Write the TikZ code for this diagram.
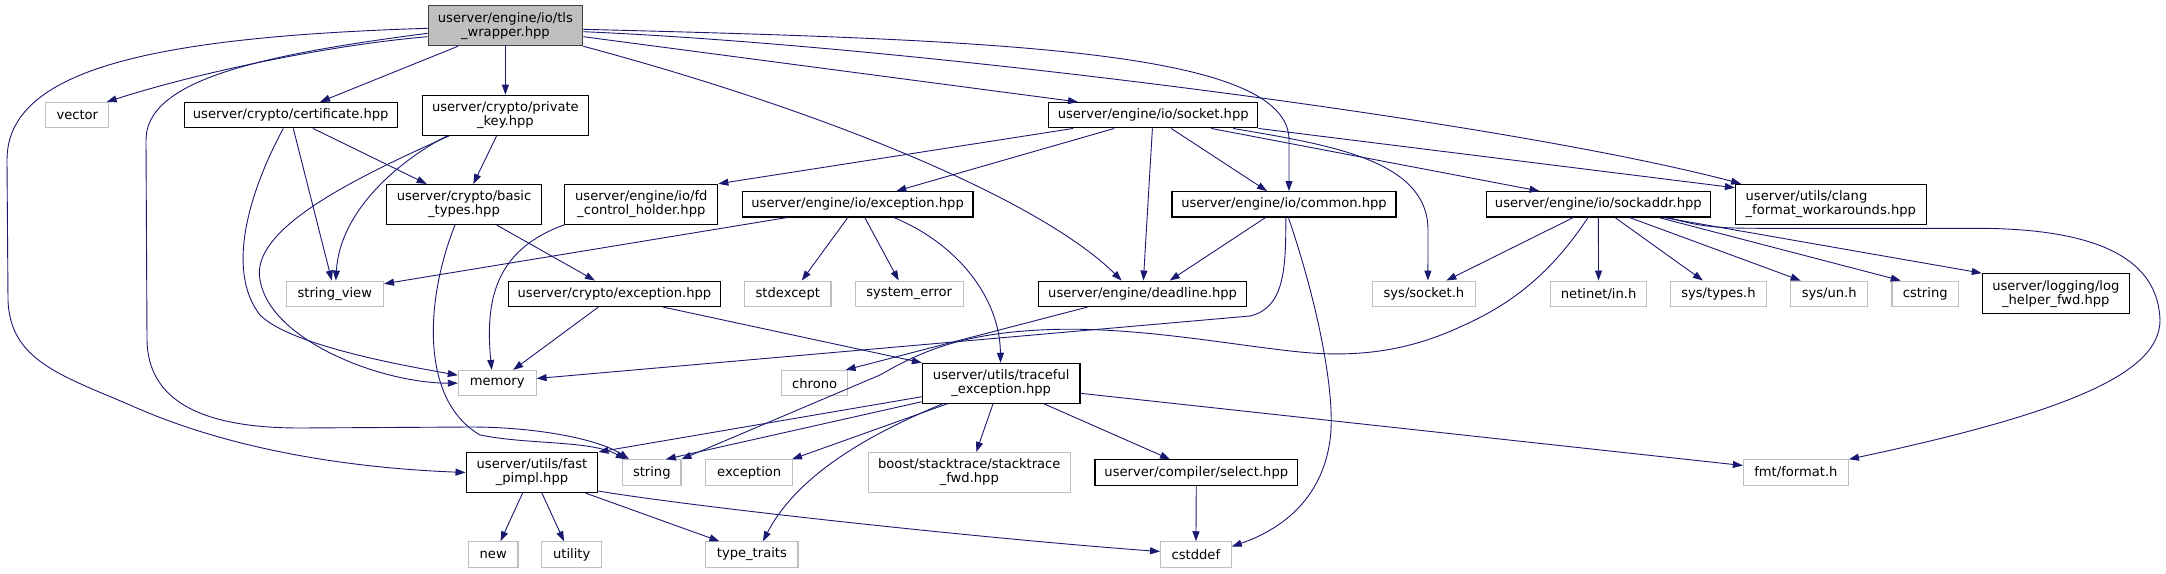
\documentclass[tikz,border=0pt]{standalone}
\usepackage{fontspec}
\setmainfont{DejaVu Sans}
\usetikzlibrary{arrows.meta}
\definecolor{edgeblue}{RGB}{25,25,112}
\definecolor{sysgray}{RGB}{191,191,191}
\definecolor{maingray}{RGB}{64,64,64}

\begin{document}
\begin{tikzpicture}[x=1pt,y=-1pt,
  box/.style={rectangle, inner xsep=2pt, inner ysep=0pt, align=center, line width=1.1pt,
    font=\fontsize{13.1}{14}\selectfont, minimum height=25.4pt},
  hdr/.style={box, draw=black},
  sysh/.style={box, draw=sysgray},
  tall/.style={minimum height=40pt},
  dep/.style={draw=edgeblue, line width=0.9pt, -{Triangle[length=10pt,width=7pt]}}]
\useasboundingbox (0,0) rectangle (2166,573);

% headers, row by row
\node[hdr, tall, fill=sysgray, draw=maingray, minimum width=154.7pt] (tls) at (505.4,25.7) {userver/engine/io/tls\\\_wrapper.hpp};
\node[sysh, minimum width=63pt] (vector) at (77.3,115.2) {vector};
\node[hdr, minimum width=213pt] (certificate) at (290.7,115.2) {userver/crypto/certificate.hpp};
\node[hdr, tall, minimum width=166.7pt] (privkey) at (505.4,115.2) {userver/crypto/private\\\_key.hpp};
\node[hdr, minimum width=209.4pt] (socket) at (1153.2,115.2) {userver/engine/io/socket.hpp};
\node[hdr, tall, minimum width=154.8pt] (basictypes) at (464,204.5) {userver/crypto/basic\\\_types.hpp};
\node[hdr, tall, minimum width=153pt] (fdholder) at (641.3,204.3) {userver/engine/io/fd\\\_control\_holder.hpp};
\node[hdr, minimum width=230.7pt] (ioexc) at (857.6,204.3) {userver/engine/io/exception.hpp};
\node[hdr, minimum width=224pt] (common) at (1284,204.3) {userver/engine/io/common.hpp};
\node[hdr, minimum width=224pt] (sockaddr) at (1598.3,204.3) {userver/engine/io/sockaddr.hpp};
\node[hdr, tall, align=left, minimum width=190.8pt] (clang) at (1830.8,204.3) {userver/utils/clang\\\_format\_workarounds.hpp};
\node[sysh, minimum width=97.3pt] (strview) at (334.8,293.8) {string\_view};
\node[hdr, minimum width=212pt] (cryptoexc) at (614.4,293.8) {userver/crypto/exception.hpp};
\node[sysh, minimum width=86.3pt] (stdexcept) at (787.8,293.8) {stdexcept};
\node[sysh, minimum width=108.1pt] (syserror) at (909.2,293.8) {system\_error};
\node[hdr, minimum width=207.4pt] (deadline) at (1142.6,293.8) {userver/engine/deadline.hpp};
\node[sysh, minimum width=102.6pt] (syssocket) at (1423.9,293.8) {sys/socket.h};
\node[sysh, minimum width=96.2pt] (netinet) at (1598.6,293.8) {netinet/in.h};
\node[sysh, minimum width=95.8pt] (systypes) at (1718.5,293.8) {sys/types.h};
\node[sysh, minimum width=76.7pt] (sysun) at (1829.2,293.8) {sys/un.h};
\node[sysh, minimum width=66.5pt] (cstring) at (1925.2,293.8) {cstring};
\node[hdr, tall, minimum width=147pt] (loghelper) at (2055.8,293.7) {userver/logging/log\\\_helper\_fwd.hpp};
\node[sysh, minimum width=77.7pt] (memory) at (497.2,383.2) {memory};
\node[sysh, minimum width=66.4pt] (chrono) at (814.6,383.2) {chrono};
\node[hdr, tall, minimum width=157.5pt] (traceful) at (1001.2,383.3) {userver/utils/traceful\\\_exception.hpp};
\node[hdr, tall, minimum width=131.8pt] (fastpimpl) at (532,472.5) {userver/utils/fast\\\_pimpl.hpp};
\node[sysh, minimum width=58.3pt] (string) at (651.8,472.5) {string};
\node[sysh, minimum width=86.8pt] (exception) at (749.2,472.5) {exception};
\node[sysh, tall, minimum width=202.1pt] (boost) at (969.3,472.5) {boost/stacktrace/stacktrace\\\_fwd.hpp};
\node[hdr, minimum width=202.6pt] (select) at (1196.3,472.5) {userver/compiler/select.hpp};
\node[sysh, minimum width=105pt] (fmt) at (1795.9,472.5) {fmt/format.h};
\node[sysh, minimum width=49.6pt] (new) at (493.2,554.5) {new};
\node[sysh, minimum width=59.7pt] (utility) at (571.7,554.5) {utility};
\node[sysh, minimum width=92.1pt] (typetraits) at (751.9,554.5) {type\_traits};
\node[sysh, minimum width=70.7pt] (cstddef) at (1195.9,554.5) {cstddef};

% tls_wrapper.hpp
\draw[dep] ([yshift=-11pt]tls.west) .. controls (330,45) and (200,72) .. ([xshift=29.4pt]vector.north);
\draw[dep] ([xshift=-47.4pt]tls.south) -- ([xshift=29.3pt]certificate.north);
\draw[dep] (tls) -- (privkey);
\draw[dep] ([yshift=-2.6pt]tls.west) .. controls (150,37) and (7,70) .. (7,160) -- (8,300) .. controls (10,360) and (60,375) .. (130,405) .. controls (230,450) and (350,468) .. (fastpimpl.west);
\draw[dep] ([yshift=-7.6pt]tls.west) .. controls (260,55) and (146,80) .. (146,140) -- (147,340) .. controls (148,400) and (200,428) .. (300,428) -- (470,427) .. controls (540,427) and (600,440) .. ([xshift=-22.8pt]string.north);
\draw[dep] ([yshift=-11pt]tls.east) -- ([xshift=-75.2pt]socket.north);
\draw[dep] (tls.south east) .. controls (832.7,113.2) and (1041.6,201.3) .. ([xshift=-21pt]deadline.north);
\draw[dep] ([yshift=-3.6pt]tls.east) .. controls (1000,40) and (1289,50) .. (1289,140) -- ([xshift=5pt]common.north);
\draw[dep] ([yshift=-6pt]tls.east) .. controls (900,45) and (1500,120) .. ([xshift=-89.8pt]clang.north);

% socket.hpp
\draw[dep] ([xshift=-80pt]socket.south) -- (fdholder.north east);
\draw[dep] ([xshift=-39pt]socket.south) -- ([xshift=38.7pt]ioexc.north);
\draw[dep] (socket) -- (deadline);
\draw[dep] ([xshift=18pt]socket.south) -- ([xshift=-17pt]common.north);
\draw[dep] ([xshift=58pt]socket.south) -- ([xshift=-58.8pt]sockaddr.north);
\draw[dep] ([xshift=80pt]socket.south) .. controls (1330,145) and (1428,160) .. (1428,230) -- ([xshift=4pt]syssocket.north);
\draw[dep] (socket.south east) -- ([yshift=-4pt]clang.north west);

% crypto headers
\draw[dep] ([xshift=2.6pt]certificate.south) -- ([xshift=-3pt]strview.north);
\draw[dep] ([xshift=22.3pt]certificate.south) -- ([xshift=-37.3pt]basictypes.north);
\draw[dep] ([xshift=-7.4pt]certificate.south) .. controls (250,190) and (225,270) .. (260,315) .. controls (290,345) and (400,365) .. ([yshift=8pt]memory.west);
\draw[dep] ([xshift=-8.7pt]privkey.south) -- ([xshift=9.3pt]basictypes.north);
\draw[dep] ([xshift=-58pt]privkey.south) .. controls (400,160) and (340,210) .. ([xshift=1pt]strview.north);
\draw[dep] ([xshift=-56pt]privkey.south) .. controls (350,180) and (250,230) .. (260,280) .. controls (270,340) and (380,383) .. (memory.west);
\draw[dep] ([xshift=32.7pt]basictypes.south) -- ([xshift=-19.4pt]cryptoexc.north);
\draw[dep] ([xshift=-9pt]basictypes.south) .. controls (425,300) and (420,400) .. (480,435) .. controls (530,445) and (590,440) .. ([xshift=-26pt]string.north);
\draw[dep] ([xshift=-16pt]cryptoexc.south) -- ([xshift=16pt]memory.north);
\draw[dep] ([xshift=48.6pt]cryptoexc.south) -- (traceful.north west);

% engine/io headers
\draw[dep] (fdholder.south west) .. controls (495,250) and (485,300) .. ([xshift=-5.5pt]memory.north);
\draw[dep] ([xshift=-70.6pt]ioexc.south) -- ([yshift=10pt]strview.east);
\draw[dep] ([xshift=-9.8pt]ioexc.south) -- ([xshift=14pt]stdexcept.north);
\draw[dep] ([xshift=7.2pt]ioexc.south) -- ([xshift=-10.5pt]syserror.north);
\draw[dep] ([xshift=36.3pt]ioexc.south) .. controls (960,245) and (1000,300) .. ([xshift=-0.7pt]traceful.north);
\draw[dep] ([xshift=-55pt]deadline.south) -- ([xshift=31pt]chrono.north);
\draw[dep] ([xshift=-18.5pt]common.south) -- ([xshift=27.2pt]deadline.north);
\draw[dep] ([xshift=1.8pt]common.south) .. controls (1286,270) and (1284,308) .. (1250,316) -- ([yshift=4.7pt]memory.east);
\draw[dep] ([xshift=4.4pt]common.south) .. controls (1320,310) and (1336,400) .. (1330,440) .. controls (1322,500) and (1280,530) .. ([yshift=8pt]cstddef.east);

% sockaddr.hpp
\draw[dep] ([xshift=-25pt]sockaddr.south) -- ([xshift=22.5pt]syssocket.north);
\draw[dep] ([xshift=-10.3pt]sockaddr.south) .. controls (1550,275) and (1510,305) .. (1460,327) .. controls (1410,350) and (1360,358) .. (1300,352) .. controls (1230,345) and (1130,325) .. (1040,330) .. controls (960,334) and (920,352) .. (880,375) -- (string.north east);
\draw[dep] (sockaddr) -- (netinet);
\draw[dep] ([xshift=16.7pt]sockaddr.south) -- ([xshift=-15.6pt]systypes.north);
\draw[dep] ([xshift=31.3pt]sockaddr.south) -- ([xshift=-28.6pt]sysun.north);
\draw[dep] ([xshift=60.6pt]sockaddr.south) -- ([xshift=-24.5pt]cstring.north);
\draw[dep] ([xshift=65.5pt]sockaddr.south) -- (loghelper.north west);
\draw[dep] ([xshift=70.4pt]sockaddr.south) .. controls (1700,227) and (1720,228.3) .. (1760,228.3) -- (1980,228.3) .. controls (2100,229) and (2158,260) .. (2160,320) .. controls (2160,370) and (2080,410) .. (fmt.north east);

% traceful_exception.hpp
\draw[dep] ([yshift=-13.4pt]traceful.west) -- (fastpimpl.north east);
\draw[dep] ([yshift=-18.4pt]traceful.west) -- ([xshift=14pt]string.north);
\draw[dep] ([xshift=-54pt]traceful.south) -- ([xshift=42.8pt]exception.north);
\draw[dep] ([xshift=-58.8pt]traceful.south) .. controls (880,430) and (800,470) .. ([xshift=11pt]typetraits.north);
\draw[dep] ([xshift=-8.2pt]traceful.south) -- ([xshift=7pt]boost.north);
\draw[dep] ([xshift=42.8pt]traceful.south) -- ([xshift=-26.3pt]select.north);
\draw[dep] ([yshift=-10pt]traceful.east) -- ([yshift=7pt]fmt.west);

% fast_pimpl.hpp, select.hpp
\draw[dep] ([xshift=-9.4pt]fastpimpl.south) -- ([xshift=7.3pt]new.north);
\draw[dep] ([xshift=9.9pt]fastpimpl.south) -- ([xshift=-7.7pt]utility.north);
\draw[dep] ([xshift=53.5pt]fastpimpl.south) -- ([xshift=-32.5pt]typetraits.north);
\draw[dep] ([yshift=2pt]fastpimpl.south east) .. controls (700,508) and (1000,540) .. ([yshift=3pt]cstddef.west);
\draw[dep] (select) -- (cstddef);
\end{tikzpicture}
\end{document}
